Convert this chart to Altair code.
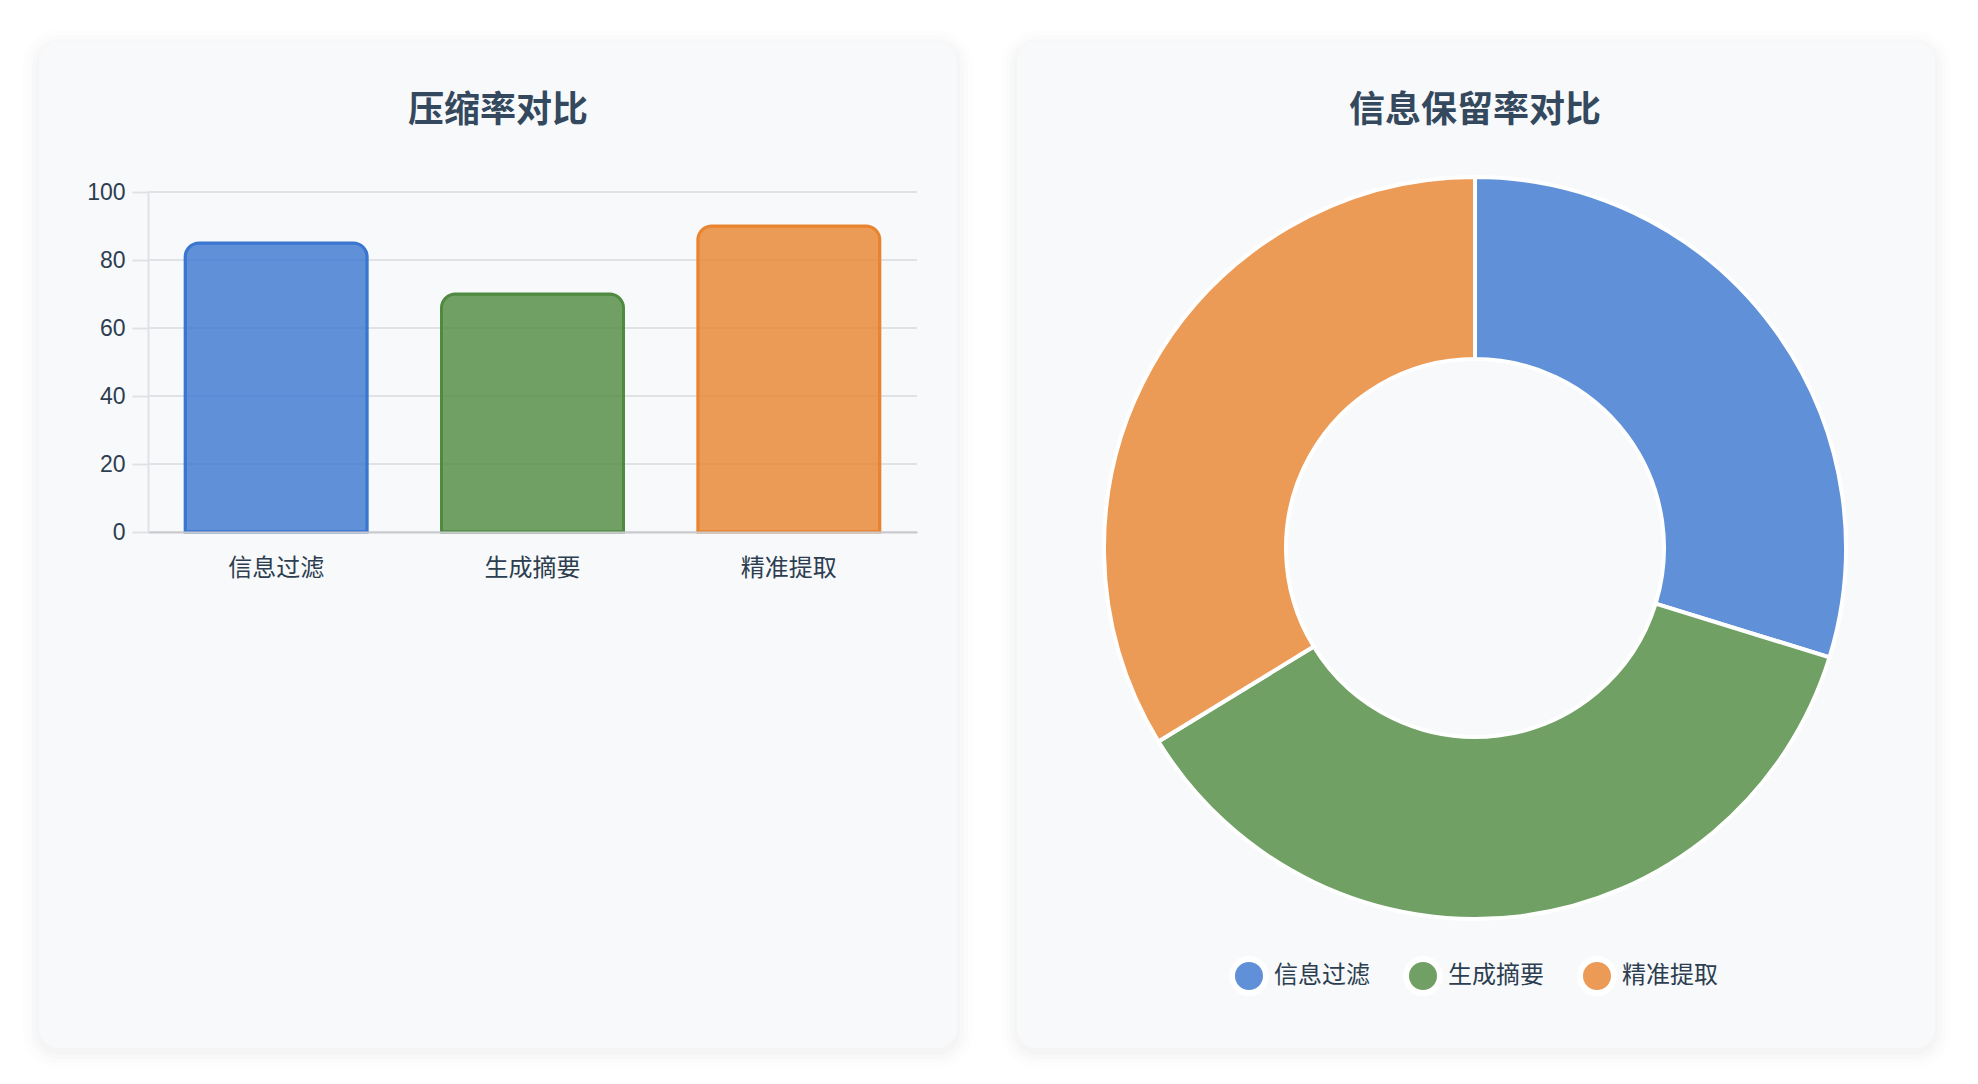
import altair as alt
import pandas as pd

# ---------------- data ----------------
categories = ["信息过滤", "生成摘要", "精准提取"]
compression_rate = [85, 70, 90]
retention_rate = [75, 92, 85]
y_ticks = [0, 20, 40, 60, 80, 100]
titles = ["压缩率对比", "信息保留率对比"]

fill_colors = ["rgba(58,117,208,0.8)", "rgba(79,138,64,0.8)", "rgba(232,131,46,0.8)"]
stroke_colors = ["#3a75d0", "#4f8a40", "#e8832e"]

FONT = "'Liberation Sans', 'Noto Sans CJK SC', sans-serif"
CJK = "'Noto Sans CJK SC', sans-serif"
TITLE_COLOR = "#34495e"
LABEL_COLOR = "#2c3e50"
CARD = "#f8f9fb"
GRID = "#e0e2e6"

bar_df = pd.DataFrame({"cat": categories, "val": compression_rate})
pie_df = pd.DataFrame({"cat": categories, "val": retention_rate, "idx": list(range(len(categories)))})
grid_df = pd.DataFrame({"val": y_ticks})
one = pd.DataFrame({"a": [0]})

CARD_W, CARD_H = 918, 1006
W1, H1 = 769, 340
CARD_TOP = -150


def card_layers(x0, y0, w, h):
    layers = []
    for k, op in [(16, 0.006), (11, 0.008), (7, 0.01), (3, 0.012)]:
        layers.append(
            alt.Chart(one).mark_rect(fill="black", opacity=op, cornerRadius=20 + k).encode(
                x=alt.value(x0 - k), x2=alt.value(x0 + w + k),
                y=alt.value(y0 - k + 4), y2=alt.value(y0 + h + k + 4))
        )
    layers.append(
        alt.Chart(one).mark_rect(fill=CARD, cornerRadius=20).encode(
            x=alt.value(x0), x2=alt.value(x0 + w), y=alt.value(y0), y2=alt.value(y0 + h))
    )
    return layers


def title_layer(text, x, y):
    return alt.Chart(pd.DataFrame({"t": [text]})).mark_text(
        font=CJK, fontSize=36, fontWeight="bold", color=TITLE_COLOR,
        align="center", baseline="middle").encode(
        text="t:N", x=alt.value(x), y=alt.value(y))


y_axis = alt.Axis(title=None, values=y_ticks, grid=False, labelFont=FONT,
                  labelFontSize=23, labelColor=LABEL_COLOR, tickSize=16,
                  tickColor=GRID, tickWidth=2, labelPadding=7,
                  domainColor=GRID, domainWidth=2, zindex=1)
y_scale = alt.Scale(domain=[0, 100])

# ---------------- panel 1: bars ----------------
grid = alt.Chart(grid_df).mark_rule(color=GRID, strokeWidth=2).encode(
    y=alt.Y("val:Q", scale=y_scale, axis=y_axis),
    x=alt.value(0), x2=alt.value(W1))

bars = alt.Chart(bar_df).mark_bar(
    strokeWidth=3, cornerRadiusTopLeft=14, cornerRadiusTopRight=14).encode(
    x=alt.X("cat:N", sort=categories,
            scale=alt.Scale(paddingInner=0.29, paddingOuter=0.145),
            axis=alt.Axis(title=None, labelAngle=0, labelFont=CJK, labelFontSize=24,
                          labelColor=LABEL_COLOR, labelPadding=24, ticks=False,
                          domainColor="#c9cacd", domainWidth=2, zindex=1)),
    y=alt.Y("val:Q", scale=y_scale, axis=y_axis),
    fill=alt.Fill("cat:N", scale=alt.Scale(domain=categories, range=fill_colors), legend=None),
    stroke=alt.Stroke("cat:N", scale=alt.Scale(domain=categories, range=stroke_colors), legend=None),
)

panel1 = alt.layer(
    *card_layers(-109, CARD_TOP, CARD_W, CARD_H), grid, bars,
    title_layer(titles[0], 350, -81)
).properties(width=W1, height=H1)

# ---------------- panel 2: donut ----------------
arc = alt.Chart(pie_df).mark_arc(
    innerRadius=189, outerRadius=371, stroke="white", strokeWidth=4).encode(
    theta=alt.Theta("val:Q", stack=True),
    color=alt.Color("cat:N", sort=categories,
                    scale=alt.Scale(domain=categories, range=fill_colors),
                    legend=alt.Legend(title=None, orient="none", legendX=212,
                                      legendY=914 + CARD_TOP,
                                      direction="horizontal", symbolType="circle",
                                      symbolSize=1156, symbolStrokeColor="white",
                                      symbolStrokeWidth=6, symbolOpacity=1,
                                      labelFont=CJK, labelFontSize=24,
                                      labelColor=LABEL_COLOR, labelOffset=5,
                                      columnPadding=24)),
    order=alt.Order("idx:Q"),
    x=alt.value(458), y=alt.value(506 + CARD_TOP),
)

panel2 = alt.layer(
    *card_layers(0, CARD_TOP, CARD_W, CARD_H), arc,
    title_layer(titles[1], 458, 69 + CARD_TOP)
).properties(width=CARD_W, height=H1)

chart = alt.hconcat(panel1, panel2, spacing=28).resolve_scale(
    color="independent", fill="independent", stroke="independent"
).resolve_legend(color="independent").properties(
    padding={"left": 15, "top": 22, "right": 0, "bottom": 0},
    background="white",
).configure_view(strokeWidth=0)

chart.save("out.html", embed_options={"renderer": "svg", "actions": False})
